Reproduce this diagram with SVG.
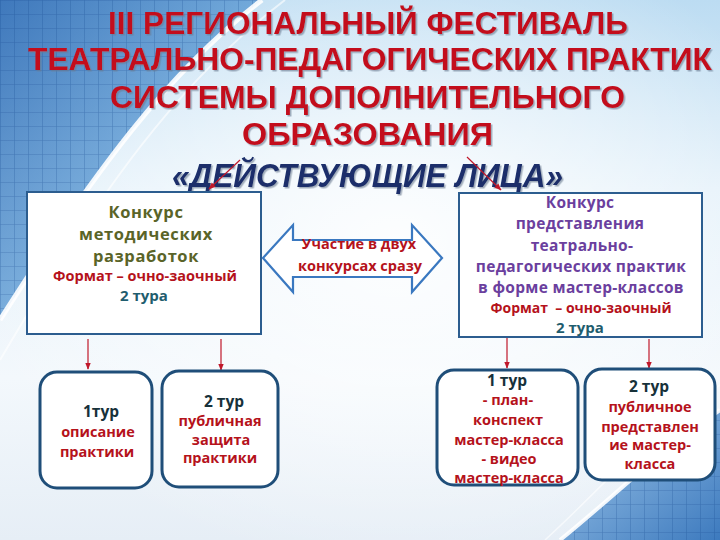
<svg xmlns="http://www.w3.org/2000/svg" width="720" height="540" viewBox="0 0 720 540">
<defs>
<linearGradient id="bg" x1="0" y1="0" x2="0" y2="1">
<stop offset="0" stop-color="#bcdcf2"/>
<stop offset="0.35" stop-color="#e4f1fa"/>
<stop offset="0.7" stop-color="#f3f8fc"/>
<stop offset="1" stop-color="#e6eef6"/>
</linearGradient>
<radialGradient id="glow" cx="0.55" cy="0.45" r="0.6">
<stop offset="0" stop-color="#ffffff" stop-opacity="0.9"/>
<stop offset="1" stop-color="#ffffff" stop-opacity="0"/>
</radialGradient>
<linearGradient id="leftBlue" x1="0" y1="0" x2="1" y2="1">
<stop offset="0" stop-color="#1f5fae"/>
<stop offset="0.6" stop-color="#6aa8dc"/>
<stop offset="1" stop-color="#cfe6f6"/>
</linearGradient>
<linearGradient id="brBlue" x1="0" y1="0" x2="1" y2="1">
<stop offset="0" stop-color="#9cc6ea"/>
<stop offset="1" stop-color="#2a6db8"/>
</linearGradient>
<pattern id="grid" width="14" height="14" patternUnits="userSpaceOnUse">
<path d="M0 0H14M0 0V14" stroke="#0d3f86" stroke-width="1.2" stroke-opacity="0.35" fill="none"/>
</pattern>
<marker id="ah" viewBox="0 0 10 10" refX="9" refY="5" markerWidth="6" markerHeight="6" orient="auto">
<path d="M0 1L10 5L0 9z" fill="#c0182a"/>
</marker>
<filter id="sh" x="-5%" y="-20%" width="110%" height="140%">
<feDropShadow dx="1.5" dy="1.5" stdDeviation="0.6" flood-color="#6a7a90" flood-opacity="0.6"/>
</filter>
</defs>
<style>
.title{font-family:"Liberation Sans",Arial,sans-serif;font-weight:700;fill:#c3111d;font-size:32px;}
.sub{font-family:"Liberation Sans",Arial,sans-serif;font-weight:700;font-style:italic;fill:#1b2f6b;font-size:34px;}
.t{font-family:"Open Sans","Noto Sans",sans-serif;font-weight:700;text-anchor:middle;}
.big{fill:#fff;stroke:#2c5d8f;stroke-width:2;}
.small{fill:#fff;stroke:#1f4e79;stroke-width:3;}
.olive{fill:#5a6428;font-size:16.5px;letter-spacing:0.6px;}
.purple{fill:#6b3f9e;font-size:15.5px;letter-spacing:0.3px;}
.red{fill:#b5121b;}
.teal{fill:#1f5d6e;font-size:15px;}
.dark{fill:#17313a;font-size:15.5px;}
.conn{stroke:#c0182a;stroke-width:1.2;fill:none;marker-end:url(#ah);}
</style>
<rect width="720" height="540" fill="url(#bg)"/>
<rect width="720" height="540" fill="url(#glow)"/>
<path d="M0 0H262C170 70 95 170 0 320Z" fill="url(#leftBlue)" opacity="0.8"/>
<path d="M0 0H262C170 70 95 170 0 320Z" fill="url(#grid)"/>
<path d="M262 0C170 70 95 170 0 320" stroke="#ffffff" stroke-width="5" fill="none" opacity="0.9"/>
<path d="M285 0C180 80 100 190 0 360" stroke="#ffffff" stroke-width="2" fill="none" opacity="0.6"/>
<path d="M720 410C660 450 610 500 560 540H720Z" fill="url(#brBlue)" opacity="0.9"/>
<path d="M720 410C660 450 610 500 560 540H720Z" fill="url(#grid)"/>
<path d="M720 410C660 450 610 500 560 540" stroke="#ffffff" stroke-width="4" fill="none" opacity="0.9"/>
<path d="M720 385C650 430 600 490 545 540" stroke="#ffffff" stroke-width="1.5" fill="none" opacity="0.6"/>

<g id="title" filter="url(#sh)">
<text class="title" x="108" y="34" textLength="520" lengthAdjust="spacingAndGlyphs">III РЕГИОНАЛЬНЫЙ ФЕСТИВАЛЬ</text>
<text class="title" x="28" y="70" textLength="684" lengthAdjust="spacingAndGlyphs">ТЕАТРАЛЬНО-ПЕДАГОГИЧЕСКИХ ПРАКТИК</text>
<text class="title" x="110" y="108" textLength="515" lengthAdjust="spacingAndGlyphs">СИСТЕМЫ ДОПОЛНИТЕЛЬНОГО</text>
<text class="title" x="242" y="145" textLength="251" lengthAdjust="spacingAndGlyphs">ОБРАЗОВАНИЯ</text>
<text class="sub" x="172" y="187" textLength="391" lengthAdjust="spacingAndGlyphs">«ДЕЙСТВУЮЩИЕ ЛИЦА»</text>
</g>

<g id="connectors">
<line class="conn" x1="240" y1="160" x2="209" y2="189"/>
<line class="conn" x1="467" y1="157" x2="501" y2="190"/>
<line class="conn" x1="88" y1="339" x2="88" y2="369"/>
<line class="conn" x1="221" y1="339" x2="221" y2="370"/>
<line class="conn" x1="507" y1="338" x2="507" y2="368"/>
<line class="conn" x1="649" y1="339" x2="649" y2="368"/>
</g>

<g id="node-left">
<rect class="big" x="27" y="192" width="234" height="142"/>
<text class="t olive" x="146" y="218">Конкурс</text>
<text class="t olive" x="146" y="240">методических</text>
<text class="t olive" x="146" y="262">разработок</text>
<text class="t red" x="145" y="281" font-size="14.5">Формат – очно-заочный</text>
<text class="t teal" x="144" y="301">2 тура</text>
</g>

<g id="node-right">
<rect class="big" x="459" y="193" width="243" height="144"/>
<text class="t purple" x="580" y="208">Конкурс</text>
<text class="t purple" x="580" y="229">представления</text>
<text class="t purple" x="582" y="251">театрально-</text>
<text class="t purple" x="581" y="272">педагогических практик</text>
<text class="t purple" x="581" y="293">в форме мастер-классов</text>
<text class="t red" x="581" y="313" font-size="14" xml:space="preserve">Формат  – очно-заочный</text>
<text class="t teal" x="580" y="333" font-size="14">2 тура</text>
</g>

<g id="node-both">
<path d="M263 258L293 225V240H412V225L442 258L412 292V277H293V292Z" fill="#fff" stroke="#3a78c0" stroke-width="2.2" stroke-linejoin="miter"/>
<text class="t red" x="359" y="249" font-size="14.5">Участие в двух</text>
<text class="t red" x="360" y="271" font-size="14.5">конкурсах сразу</text>
</g>

<g id="node-l1">
<rect class="small" x="40" y="372" width="112" height="116" rx="17"/>
<text class="t dark" x="101" y="417">1тур</text>
<text class="t red" x="98" y="437" font-size="14.5">описание</text>
<text class="t red" x="97" y="457" font-size="14.5">практики</text>
</g>

<g id="node-l2">
<rect class="small" x="162" y="371" width="116" height="116" rx="17"/>
<text class="t dark" x="224" y="407">2 тур</text>
<text class="t red" x="220" y="426" font-size="14.5">публичная</text>
<text class="t red" x="221" y="445" font-size="14.5">защита</text>
<text class="t red" x="220" y="463" font-size="14.5">практики</text>
</g>

<g id="node-r1">
<rect class="small" x="437" y="370" width="141" height="115" rx="17"/>
<text class="t dark" x="507" y="386">1 тур</text>
<text class="t red" x="508" y="405" font-size="14.5">- план-</text>
<text class="t red" x="508" y="425" font-size="14.5">конспект</text>
<text class="t red" x="509" y="445" font-size="14.5">мастер-класса</text>
<text class="t red" x="509" y="464" font-size="14.5">- видео</text>
<text class="t red" x="509" y="483" font-size="14.5">мастер-класса</text>
</g>

<g id="node-r2">
<rect class="small" x="585" y="369" width="130" height="111" rx="17"/>
<text class="t dark" x="649" y="392">2 тур</text>
<text class="t red" x="650" y="412" font-size="14.5">публичное</text>
<text class="t red" x="650" y="432" font-size="14.5">представлен</text>
<text class="t red" x="650" y="450" font-size="14.5">ие мастер-</text>
<text class="t red" x="650" y="469" font-size="14.5">класса</text>
</g>
</svg>
